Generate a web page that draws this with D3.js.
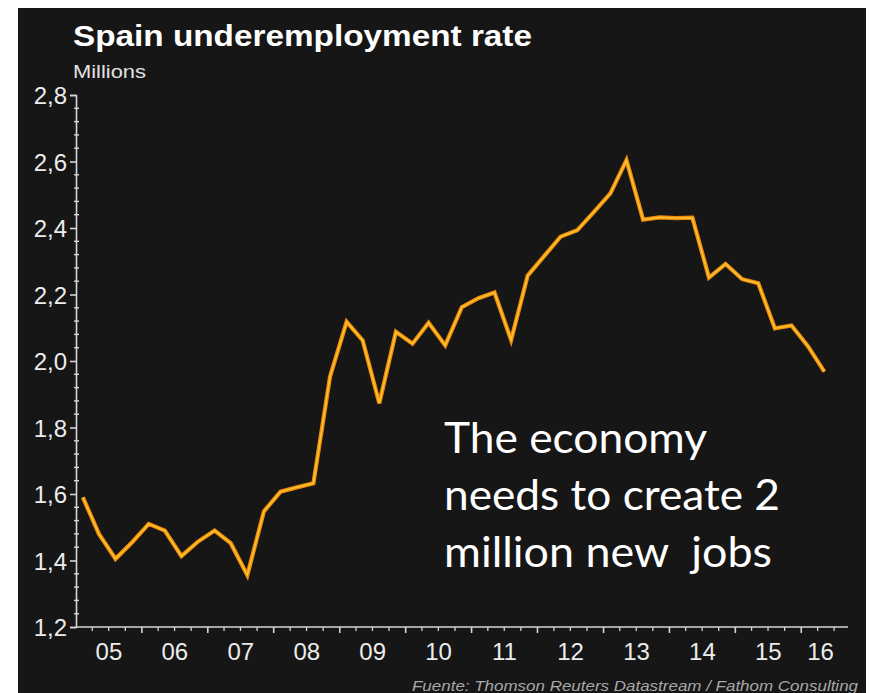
<!DOCTYPE html>
<html>
<head>
<meta charset="utf-8">
<script src="https://cdn.jsdelivr.net/npm/d3@7/dist/d3.min.js"></script>
<style>
  html, body { margin: 0; padding: 0; background: #ffffff; }
  svg { display: block; }
  text { font-family: "Liberation Sans", Arial, Helvetica, sans-serif; }
</style>
</head>
<body>
<svg id="chart" width="870" height="693"></svg>
<script>
// Quarterly underemployment in Spain, millions of people
const quarters = [
  "2005-Q1","2005-Q2","2005-Q3","2005-Q4",
  "2006-Q1","2006-Q2","2006-Q3","2006-Q4",
  "2007-Q1","2007-Q2","2007-Q3","2007-Q4",
  "2008-Q1","2008-Q2","2008-Q3","2008-Q4",
  "2009-Q1","2009-Q2","2009-Q3","2009-Q4",
  "2010-Q1","2010-Q2","2010-Q3","2010-Q4",
  "2011-Q1","2011-Q2","2011-Q3","2011-Q4",
  "2012-Q1","2012-Q2","2012-Q3","2012-Q4",
  "2013-Q1","2013-Q2","2013-Q3","2013-Q4",
  "2014-Q1","2014-Q2","2014-Q3","2014-Q4",
  "2015-Q1","2015-Q2","2015-Q3","2015-Q4",
  "2016-Q1","2016-Q2"
];
const underemployment = [
  1.59, 1.48, 1.405, 1.455,
  1.51, 1.49, 1.413, 1.457,
  1.49, 1.452, 1.356, 1.548,
  1.607, 1.620, 1.632, 1.953,
  2.118, 2.062, 1.873, 2.088,
  2.052, 2.115, 2.047, 2.162,
  2.189, 2.206, 2.063, 2.257,
  2.316, 2.374, 2.393, 2.448,
  2.504, 2.604, 2.425, 2.432,
  2.430, 2.431, 2.251, 2.292,
  2.246, 2.234, 2.098, 2.107,
  2.044, 1.968
];
const yTicks = [1.2, 1.4, 1.6, 1.8, 2.0, 2.2, 2.4, 2.6, 2.8];
const yearLabels = ["05","06","07","08","09","10","11","12","13","14","15","16"];
const titleText = "Spain underemployment rate";
const unitText = "Millions";
const noteLines = ["The economy", "needs to create 2", "million new  jobs"];
const sourceText = "Fuente: Thomson Reuters Datastream / Fathom Consulting";

// Each quarter is plotted in the middle of its span
function quarterDate(q) {
  const [y, qq] = q.split("-Q").map(Number);
  return new Date(y, (qq - 1) * 3 + 1, 8);
}
const series = quarters.map((q, i) => ({ date: quarterDate(q), value: underemployment[i] }));

const svg = d3.select("#chart");

// dark panel inside a thin white frame
svg.append("rect")
  .attr("x", 18).attr("y", 8)
  .attr("width", 848).attr("height", 685)
  .attr("fill", "#161616");

const x = d3.scaleTime()
  .domain([new Date(2005, 0, 1), new Date(2016, 8, 16)])
  .range([76, 848]);
const y = d3.scaleLinear()
  .domain([1.2, 2.8])
  .range([627, 95]);

const axisColor = "#d6d6d6";
const labelColor = "#ececec";

// y axis: major ticks every 0.2, minor every 0.04
const yAxis = svg.append("g").attr("transform", `translate(${x.range()[0]},0)`);
yAxis.call(d3.axisLeft(y).tickValues(yTicks).tickSize(6).tickPadding(3)
  .tickFormat(d => d3.format(".1f")(d).replace(".", ",")));
yAxis.select(".domain").attr("stroke", axisColor).attr("stroke-width", 1.6);
yAxis.selectAll(".tick line").attr("stroke", axisColor).attr("stroke-width", 1.6);
yAxis.selectAll(".tick text")
  .attr("fill", labelColor)
  .style("font-size", "24px")
  .attr("dy", "0.36em");
const yMinor = d3.range(0, 41).map(i => 1.2 + i * 0.04).filter(v => !yTicks.some(t => Math.abs(t - v) < 1e-6));
yAxis.selectAll(".minor")
  .data(yMinor)
  .join("line")
  .attr("class", "minor")
  .attr("x1", -2).attr("x2", 3)
  .attr("y1", d => y(d)).attr("y2", d => y(d))
  .attr("stroke", axisColor).attr("stroke-width", 1.4);

// x axis: quarter ticks, year ticks a little longer, year labels centred in each year
const xAxis = svg.append("g").attr("transform", `translate(0,${y.range()[0]})`);
xAxis.append("line")
  .attr("x1", x.range()[0]).attr("x2", x.range()[1])
  .attr("stroke", axisColor).attr("stroke-width", 1.6);
const quarterTicks = d3.timeMonth.every(3).range(new Date(2005, 3, 1), x.domain()[1]);
xAxis.selectAll(".qtick")
  .data(quarterTicks)
  .join("line")
  .attr("class", "qtick")
  .attr("x1", d => x(d)).attr("x2", d => x(d))
  .attr("y1", 0).attr("y2", d => d.getMonth() === 0 ? 6 : 4)
  .attr("stroke", axisColor).attr("stroke-width", d => d.getMonth() === 0 ? 1.6 : 1.3);
xAxis.selectAll(".ylabel")
  .data(yearLabels)
  .join("text")
  .attr("class", "ylabel")
  .attr("x", (d, i) => {
    const a = x(new Date(2005 + i, 0, 1));
    const b = Math.min(x(new Date(2006 + i, 0, 1)), x.range()[1] - 8);
    return (a + b) / 2;
  })
  .attr("y", 33)
  .attr("text-anchor", "middle")
  .attr("fill", labelColor)
  .style("font-size", "24px")
  .text(d => d);

// the series: orange stroke with a lighter core
const line = d3.line().x(d => x(d.date)).y(d => y(d.value));
svg.append("path")
  .datum(series)
  .attr("d", line)
  .attr("fill", "none")
  .attr("stroke", "#ec8a0a")
  .attr("stroke-width", 4.2)
  .attr("stroke-linejoin", "miter");
svg.append("path")
  .datum(series)
  .attr("d", line)
  .attr("fill", "none")
  .attr("stroke", "#ffc230")
  .attr("stroke-width", 1.6)
  .attr("stroke-linejoin", "miter");

// titles
svg.append("text")
  .attr("x", 73).attr("y", 46)
  .attr("fill", "#ffffff")
  .style("font-size", "29px").style("font-weight", "bold")
  .attr("textLength", 459).attr("lengthAdjust", "spacingAndGlyphs")
  .text(titleText);
svg.append("text")
  .attr("x", 73).attr("y", 78)
  .attr("fill", "#e2e2e2")
  .style("font-size", "18px")
  .attr("textLength", 73).attr("lengthAdjust", "spacingAndGlyphs")
  .text(unitText);

// annotation
const noteWidths = [263, 336, 328];
svg.append("g")
  .selectAll("text")
  .data(noteLines)
  .join("text")
  .attr("x", 444)
  .attr("y", (d, i) => 453 + i * 57)
  .attr("fill", "#ffffff")
  .style("font-family", "Lato, 'Open Sans', sans-serif")
  .style("font-size", "42px")
  .style("white-space", "pre")
  .attr("textLength", (d, i) => noteWidths[i])
  .attr("lengthAdjust", "spacingAndGlyphs")
  .text(d => d);

// source line
svg.append("text")
  .attr("x", 858).attr("y", 691)
  .attr("text-anchor", "end")
  .attr("fill", "#a8a8a8")
  .style("font-size", "15px").style("font-style", "italic")
  .attr("textLength", 446).attr("lengthAdjust", "spacingAndGlyphs")
  .text(sourceText);
</script>
</body>
</html>
